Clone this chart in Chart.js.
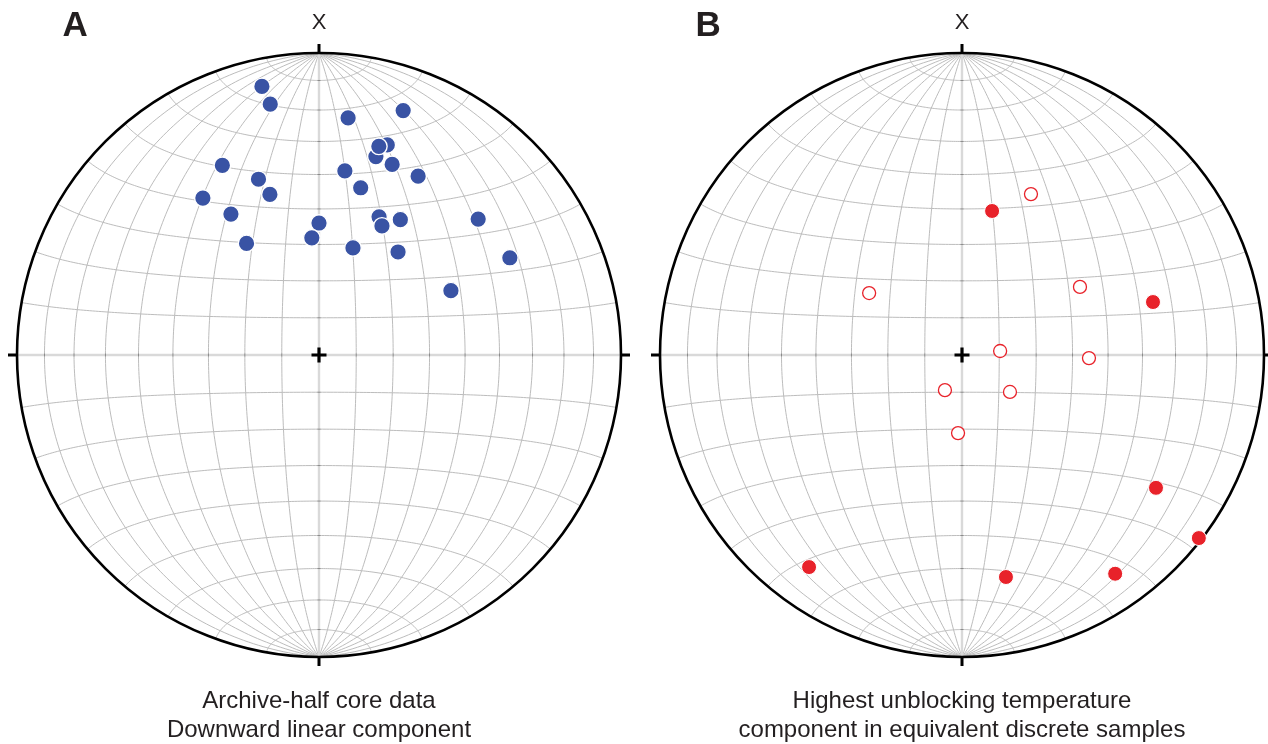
<!DOCTYPE html>
<html>
<head>
<meta charset="utf-8">
<script src="https://cdn.jsdelivr.net/npm/chart.js@4/dist/chart.umd.min.js"></script>
<style>
  html, body { margin: 0; padding: 0; background: #fff; }
  body { width: 1268px; height: 744px; position: relative; overflow: hidden;
         font-family: "Liberation Sans", Arial, Helvetica, sans-serif; color: #231f20; }
  canvas { position: absolute; top: 0; }
  .panel { position: absolute; font-weight: bold; font-size: 35px; line-height: 35px; top: 6px; color: #231f20; }
  .axislbl { position: absolute; width: 100px; text-align: center; font-size: 22px; line-height: 22px; top: 11px; }
  .caption { position: absolute; width: 600px; text-align: center; font-size: 24px; line-height: 29px; top: 685px; }
</style>
</head>
<body>
<canvas id="netA" width="660" height="744" style="left:-11px"></canvas>
<canvas id="netB" width="660" height="744" style="left:632px"></canvas>

<div class="panel" style="left:62.5px">A</div>
<div class="panel" style="left:695.5px">B</div>
<div class="axislbl" style="left:269px">X</div>
<div class="axislbl" style="left:912px">X</div>
<div class="caption" style="left:19px">Archive-half core data<br>Downward linear component</div>
<div class="caption" style="left:662px">Highest unblocking temperature<br>component in equivalent discrete samples</div>

<script>
// Panel A: archive-half core, downward linear component (declination / inclination, degrees)
const decA = [348, 349, 7, 19, 18, 16, 21, 16, 8, 29, 14, 333, 341, 343, 323.5, 328, 0, 356.5, 23.5, 26, 31, 49.5, 327, 17.6, 37.5, 63, 64];
const incA = [10, 16.5, 22, 15.5, 27.7, 32.2, 32.9, 28.9, 38.4, 32.8, 42.4, 30.2, 38.4, 43.7, 35.6, 44.2, 54, 58.1, 48.7, 50.7, 46.6, 31.3, 53.7, 59.5, 54.6, 29.8, 49.8];

// Panel B: highest unblocking temperature component, discrete samples
// positive inclination = lower hemisphere (filled), negative = upper hemisphere (open)
const decB = [11.8, 74.5, 124.4, 127.7, 215.8, 168.8, 145, 23.2, 303.7, 60, 84, 91.4, 205.9, 127.6, 182.9];
const incB = [49.7, 34.7, 23.2, 1, 14.5, 26, 12.6, -41.6, -59.7, -52.8, -79.7, -55.4, -79.5, -73.7, -68.9];

const D2R = Math.PI / 180;

// Equal-area (Schmidt) projection of a direction onto the unit primitive
function project(dec, inc) {
  const theta = (90 - Math.abs(inc)) * D2R;
  const r = Math.SQRT2 * Math.sin(theta / 2);
  return { x: r * Math.sin(dec * D2R), y: r * Math.cos(dec * D2R) };
}

// Equatorial-aspect point on the net (lon from centre, lat toward the X pole)
function netPoint(lon, lat) {
  const cl = Math.cos(lat * D2R);
  const px = cl * Math.sin(lon * D2R);
  const py = Math.sin(lat * D2R);
  const pz = cl * Math.cos(lon * D2R);
  const k = Math.sqrt(1 / (1 + pz));
  return { x: px * k, y: py * k };
}

const stereonet = {
  id: 'stereonet',
  beforeDatasetsDraw(chart) {
    const ctx = chart.ctx;
    const xs = chart.scales.x, ys = chart.scales.y;
    const P = p => [xs.getPixelForValue(p.x), ys.getPixelForValue(p.y)];
    const cx = xs.getPixelForValue(0), cy = ys.getPixelForValue(0);
    const R = xs.getPixelForValue(1) - cx;
    ctx.save();

    function path(fn, a0, a1, step) {
      ctx.beginPath();
      for (let a = a0; a <= a1 + 1e-9; a += step) {
        const [px, py] = P(fn(a));
        if (a === a0) ctx.moveTo(px, py); else ctx.lineTo(px, py);
      }
      ctx.stroke();
    }

    // grid: meridians and latitude circles every 10 degrees
    ctx.strokeStyle = '#b8b8b8';
    ctx.lineWidth = 0.95;
    for (let lon = -80; lon <= 80; lon += 10) {
      if (lon === 0) continue;
      path(lat => netPoint(lon, lat), -90, 90, 1);
    }
    for (let lat = -80; lat <= 80; lat += 10) {
      if (lat === 0) continue;
      path(lon => netPoint(lon, lat), -90, 90, 1);
    }

    // central axes
    ctx.strokeStyle = '#d9d9d9';
    ctx.lineWidth = 2.4;
    ctx.beginPath();
    ctx.moveTo(cx - R, cy); ctx.lineTo(cx + R, cy);
    ctx.moveTo(cx, cy - R); ctx.lineTo(cx, cy + R);
    ctx.stroke();

    // short marks every 10 degrees along the axes
    ctx.strokeStyle = '#8a8a8a';
    ctx.lineWidth = 1;
    ctx.beginPath();
    for (let a = -80; a <= 80; a += 10) {
      if (a === 0) continue;
      const [vx, vy] = P(netPoint(0, a));
      ctx.moveTo(vx - 1.5, vy); ctx.lineTo(vx + 1.5, vy);
      const [hx, hy] = P(netPoint(a, 0));
      ctx.moveTo(hx, hy - 1.5); ctx.lineTo(hx, hy + 1.5);
    }
    ctx.stroke();

    // primitive circle
    ctx.strokeStyle = '#000';
    ctx.lineWidth = 2.6;
    ctx.beginPath();
    ctx.arc(cx, cy, R, 0, Math.PI * 2);
    ctx.stroke();

    // outer ticks at the four cardinal points
    ctx.lineWidth = 3;
    ctx.beginPath();
    ctx.moveTo(cx, cy - R); ctx.lineTo(cx, cy - R - 9);
    ctx.moveTo(cx, cy + R); ctx.lineTo(cx, cy + R + 9);
    ctx.moveTo(cx - R, cy); ctx.lineTo(cx - R - 9, cy);
    ctx.moveTo(cx + R, cy); ctx.lineTo(cx + R + 9, cy);
    ctx.stroke();

    // centre cross
    ctx.lineWidth = 3.2;
    ctx.beginPath();
    ctx.moveTo(cx - 7.5, cy); ctx.lineTo(cx + 7.5, cy);
    ctx.moveTo(cx, cy - 7.5); ctx.lineTo(cx, cy + 7.5);
    ctx.stroke();

    ctx.restore();
  }
};

function baseOptions() {
  return {
    responsive: false,
    animation: false,
    events: [],
    layout: { padding: { left: 28, right: 28, top: 53, bottom: 87 } },
    plugins: { legend: { display: false }, tooltip: { enabled: false }, title: { display: false } },
    scales: {
      x: { type: 'linear', min: -1, max: 1, display: false },
      y: { type: 'linear', min: -1, max: 1, display: false }
    }
  };
}

const ptsA = decA.map((d, i) => project(d, incA[i]));
new Chart(document.getElementById('netA'), {
  type: 'scatter',
  data: {
    datasets: [{
      label: 'Downward linear component',
      data: ptsA,
      pointRadius: 8.3,
      pointBackgroundColor: '#3953a4',
      pointBorderColor: '#ffffff',
      pointBorderWidth: 1.4,
      clip: false
    }]
  },
  options: baseOptions(),
  plugins: [stereonet]
});

const downB = [], upB = [];
decB.forEach((d, i) => (incB[i] >= 0 ? downB : upB).push(project(d, incB[i])));
new Chart(document.getElementById('netB'), {
  type: 'scatter',
  data: {
    datasets: [{
      label: 'Lower hemisphere',
      data: downB,
      pointRadius: 7.5,
      pointBackgroundColor: '#e8222a',
      pointBorderColor: '#ffffff',
      pointBorderWidth: 1,
      clip: false
    }, {
      label: 'Upper hemisphere',
      data: upB,
      pointRadius: 6.5,
      pointBackgroundColor: '#ffffff',
      pointBorderColor: '#e8222a',
      pointBorderWidth: 1.3,
      clip: false
    }]
  },
  options: baseOptions(),
  plugins: [stereonet]
});
</script>
</body>
</html>
